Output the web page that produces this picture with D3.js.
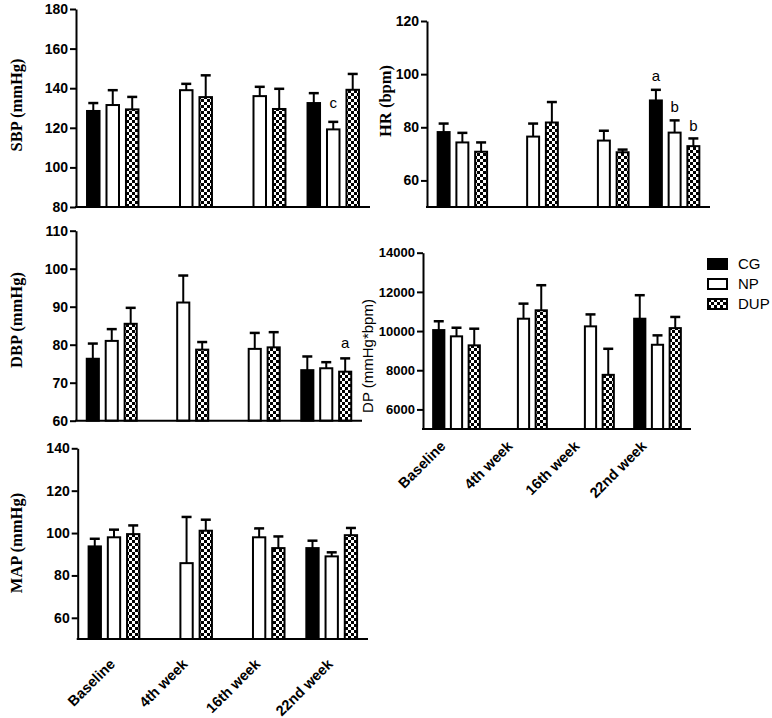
<!DOCTYPE html>
<html>
<head>
<meta charset="utf-8">
<script src="https://cdn.jsdelivr.net/npm/d3@7"></script>
<style>
body { margin: 0; background: #fff; }
svg { display: block; }
.tick text { font-family: 'Liberation Sans', Arial, sans-serif; font-weight: bold; font-size: 14px; fill: #000; }
.tick line, .domain { stroke: #000; stroke-width: 2px; }
</style>
</head>
<body>
<script>
const GROUPS = ['CG', 'NP', 'DUP'];
const WEEKS = ['Baseline', '4th week', '16th week', '22nd week'];

// rows = weeks, columns = CG, NP, DUP (null = not measured)
const SBP_MEAN = [[128.5, 131.5, 129.3], [null, 139, 135.5], [null, 136, 129.5], [132.5, 119.2, 139.2]];
const SBP_SD = [[4, 7.5, 6.3], [null, 3.2, 11], [null, 4.7, 10.2], [5, 3.8, 8]];
const SBP_TICKS = [80, 100, 120, 140, 160, 180];

const HR_MEAN = [[78.2, 74.3, 70.8], [null, 76.5, 81.8], [null, 75, 70.6], [90.1, 78, 72.9]];
const HR_SD = [[3.2, 3.6, 3.5], [null, 4.9, 7.7], [null, 3.7, 1], [4, 4.6, 2.9]];
const HR_TICKS = [60, 80, 100, 120];

const DBP_MEAN = [[76.3, 81, 85.5], [null, 91.1, 78.7], [null, 78.9, 79.3], [73.3, 73.8, 72.9]];
const DBP_SD = [[4, 3.1, 4.2], [null, 7.1, 2], [null, 4.2, 4], [3.6, 1.6, 3.5]];
const DBP_TICKS = [60, 70, 80, 90, 100, 110];

const DP_MEAN = [[10050, 9730, 9270], [null, 10630, 11060], [null, 10240, 7765], [10630, 9300, 10150]];
const DP_SD = [[450, 440, 850], [null, 770, 1280], [null, 610, 1330], [1200, 480, 570]];
const DP_TICKS = [6000, 8000, 10000, 12000, 14000];

const MAP_MEAN = [[93.7, 98, 99.5], [null, 85.8, 101.1], [null, 98, 92.9], [92.9, 89, 99]];
const MAP_SD = [[3.6, 3.6, 4.1], [null, 21.8, 5.2], [null, 4.2, 5.5], [3.5, 1.9, 3.4]];
const MAP_TICKS = [60, 80, 100, 120, 140];

const svg = d3.select('body').append('svg')
	.attr('width', 772)
	.attr('height', 718);

let defs = svg.append('defs');
let pat = defs.append('pattern')
	.attr('id', 'chk')
	.attr('width', 6)
	.attr('height', 6)
	.attr('patternUnits', 'userSpaceOnUse');
pat.append('rect').attr('width', 6).attr('height', 6).attr('fill', '#fff');
pat.append('rect').attr('width', 3).attr('height', 3).attr('fill', '#000');
pat.append('rect').attr('x', 3).attr('y', 3).attr('width', 3).attr('height', 3).attr('fill', '#000');

const FILL = { CG: '#000', NP: '#fff', DUP: 'url(#chk)' };

function panel(cfg) {
	let g = svg.append('g');
	let y = d3.scaleLinear().domain(cfg.domain).range([cfg.bottom, cfg.top]);
	let x0 = d3.scaleBand().domain(WEEKS).range([cfg.left, cfg.right])
		.paddingInner(0.273).paddingOuter(0.1365);
	let x1 = d3.scaleBand().domain(GROUPS).range([0, x0.bandwidth()]).paddingInner(0.255);

	let rows = [];
	WEEKS.forEach((w, i) => GROUPS.forEach((k, j) => {
		if (cfg.mean[i][j] != null) rows.push({ week: w, group: k, mean: cfg.mean[i][j], sd: cfg.sd[i][j] });
	}));

	let cx = d => x0(d.week) + x1(d.group) + x1.bandwidth() / 2;

	// error bars (upper only)
	g.selectAll('line.err').data(rows).enter().append('line')
		.attr('x1', cx).attr('x2', cx)
		.attr('y1', d => y(d.mean)).attr('y2', d => y(d.mean + d.sd))
		.attr('stroke', '#000').attr('stroke-width', 2);
	g.selectAll('line.cap').data(rows).enter().append('line')
		.attr('x1', d => cx(d) - 5).attr('x2', d => cx(d) + 5)
		.attr('y1', d => y(d.mean + d.sd)).attr('y2', d => y(d.mean + d.sd))
		.attr('stroke', '#000').attr('stroke-width', 2.5);

	g.selectAll('rect.bar').data(rows).enter().append('rect')
		.attr('x', d => x0(d.week) + x1(d.group) + 1)
		.attr('y', d => y(d.mean))
		.attr('width', x1.bandwidth() - 2)
		.attr('height', d => cfg.bottom - y(d.mean))
		.attr('fill', d => FILL[d.group])
		.attr('stroke', '#000')
		.attr('stroke-width', 2);

	// significance letters
	(cfg.notes || []).forEach(n => {
		let d = rows.find(r => r.week === n.week && r.group === n.group);
		g.append('text')
			.attr('x', cx(d))
			.attr('y', y(d.mean + d.sd) - n.off)
			.attr('text-anchor', 'middle')
			.style('font-family', "'Liberation Sans', Arial, sans-serif")
			.style('font-size', '15px')
			.text(n.text);
	});

	let axis = g.append('g')
		.attr('transform', `translate(${cfg.left},0)`)
		.call(d3.axisLeft(y).tickValues(cfg.ticks).tickFormat(d3.format('d'))
			.tickSize(6).tickSizeOuter(0).tickPadding(2));
	if (cfg.tickSize) axis.selectAll('.tick text').style('font-size', cfg.tickSize);

	g.append('line')
		.attr('x1', cfg.left - 1).attr('x2', cfg.right)
		.attr('y1', cfg.bottom).attr('y2', cfg.bottom)
		.attr('stroke', '#000').attr('stroke-width', 2);

	g.append('text')
		.attr('transform', `translate(${cfg.tx},${cfg.ty}) rotate(-90)`)
		.attr('text-anchor', 'middle')
		.style('font-family', cfg.serif ? "'Liberation Serif', 'Times New Roman', serif" : "'Liberation Sans', Arial, sans-serif")
		.style('font-weight', cfg.serif ? 'bold' : 'normal')
		.style('font-size', cfg.serif ? '16.5px' : '15px')
		.text(cfg.title);

	if (cfg.xlabels) {
		g.selectAll('text.xl').data(WEEKS).enter().append('text')
			.attr('transform', w => `translate(${x0(w) + x0.bandwidth() / 2 + cfg.xlabels[0]},${cfg.bottom + cfg.xlabels[1]}) rotate(-45)`)
			.attr('text-anchor', 'end')
			.style('font-family', "'Liberation Sans', Arial, sans-serif")
			.style('font-weight', 'bold')
			.style('font-size', '14.5px')
			.text(w => w);
	}
}

panel({ title: 'SBP (mmHg)', serif: true, mean: SBP_MEAN, sd: SBP_SD, domain: [80, 180], ticks: SBP_TICKS,
	left: 76, right: 370, top: 9, bottom: 207, tx: 22, ty: 105,
	notes: [{ week: '22nd week', group: 'NP', text: 'c', off: 14 }] });

panel({ title: 'HR (bpm)', serif: true, mean: HR_MEAN, sd: HR_SD, domain: [50, 120], ticks: HR_TICKS,
	left: 427, right: 710, top: 21, bottom: 207, tx: 391, ty: 101,
	notes: [
		{ week: '22nd week', group: 'CG', text: 'a', off: 9 },
		{ week: '22nd week', group: 'NP', text: 'b', off: 8 },
		{ week: '22nd week', group: 'DUP', text: 'b', off: 7 }
	] });

panel({ title: 'DBP (mmHg)', serif: true, mean: DBP_MEAN, sd: DBP_SD, domain: [60, 110], ticks: DBP_TICKS,
	left: 76, right: 362, top: 230.7, bottom: 420.7, tx: 22, ty: 320,
	notes: [{ week: '22nd week', group: 'DUP', text: 'a', off: 10 }] });

panel({ title: 'DP (mmHg*bpm)', serif: false, mean: DP_MEAN, sd: DP_SD, domain: [5000, 14000], ticks: DP_TICKS,
	left: 423, right: 691, top: 252.7, bottom: 429, tx: 373, ty: 356, tickSize: '13px', xlabels: [-10, 18] });

panel({ title: 'MAP (mmHg)', serif: true, mean: MAP_MEAN, sd: MAP_SD, domain: [50, 140], ticks: MAP_TICKS,
	left: 77.7, right: 368, top: 448.3, bottom: 639, tx: 22, ty: 543, xlabels: [2, 26] });

// legend
let legend = svg.append('g').attr('transform', 'translate(708,259)');
let items = legend.selectAll('g').data(GROUPS).enter().append('g')
	.attr('transform', (k, i) => `translate(0,${i * 20})`);
items.append('rect')
	.attr('width', 19).attr('height', 10)
	.attr('fill', k => FILL[k])
	.attr('stroke', '#000').attr('stroke-width', 2);
items.append('text')
	.attr('x', 30).attr('y', 10)
	.style('font-family', "'Liberation Sans', Arial, sans-serif")
	.style('font-size', '15px')
	.text(k => k);
</script>
</body>
</html>
